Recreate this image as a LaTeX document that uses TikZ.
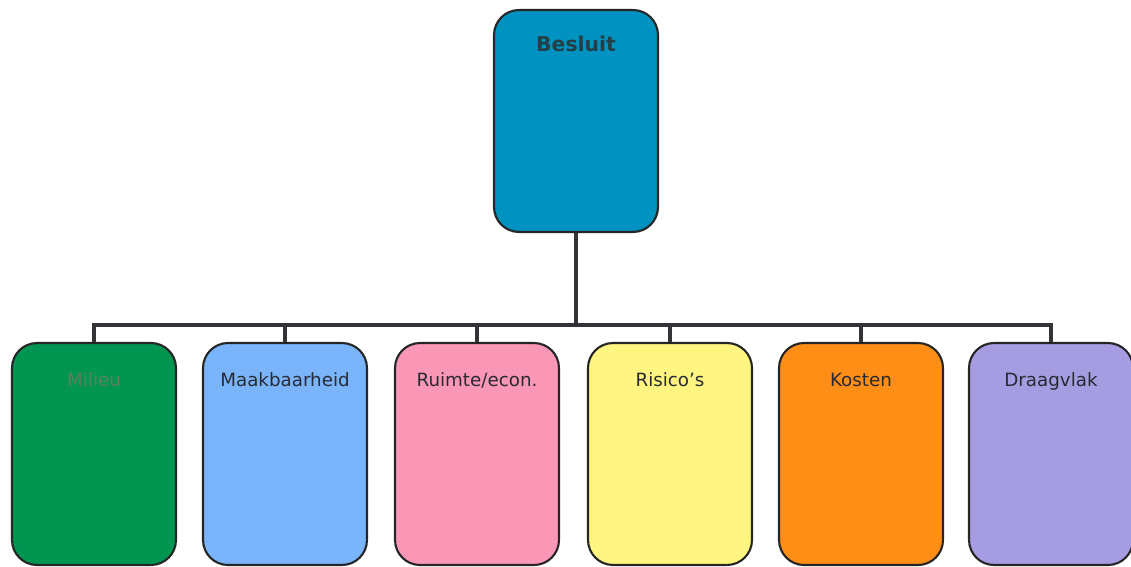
\documentclass[tikz,border=0pt]{standalone}
\usepackage{fontspec}
\setmainfont{DejaVu Sans}
\begin{document}
\begin{tikzpicture}[
  x=0.02cm, y=-0.02cm,
  every node/.style={font=\fontsize{10.4}{12}\selectfont},
  box/.style={draw=black!85, line width=1.2pt, rounded corners=0.5cm,
              minimum width=3.28cm, minimum height=4.44cm, inner sep=0pt},
  conn/.style={draw=black!85!cyan!70!black, line width=2.3pt},
]

\definecolor{topblue}{RGB}{0,146,192}
\definecolor{boxGreen}{RGB}{0,150,82}
\definecolor{boxBlue}{RGB}{122,180,250}
\definecolor{boxPink}{RGB}{250,150,182}
\definecolor{boxYellow}{RGB}{255,245,128}
\definecolor{boxOrange}{RGB}{255,142,22}
\definecolor{boxPurple}{RGB}{166,156,226}
\definecolor{txtDark}{RGB}{40,42,50}
\definecolor{txtGreen}{RGB}{92,128,94}

\useasboundingbox (0,0) rectangle (1131,567);

% top node
\node[box, fill=topblue,
      label={[anchor=north, yshift=-0.42cm, font=\fontsize{11.6}{13}\selectfont\bfseries,
              text=txtDark!90!cyan]north:Besluit}]
  (besluit) at (576,121) {};

% criteria: index/x centre/label/fill/text colour
\foreach \i/\xc/\lbl/\col/\tc in {
  1/94/Milieu/boxGreen/txtGreen,
  2/285/Maakbaarheid/boxBlue/txtDark,
  3/477/Ruimte\slash econ./boxPink/txtDark,
  4/670/Risico's/boxYellow/txtDark,
  5/861/Kosten/boxOrange/txtDark,
  6/1051/Draagvlak/boxPurple/txtDark}{
  \node[box, fill=\col,
        label={[anchor=north, yshift=-0.45cm, text=\tc,
                text height=1.6ex, text depth=0.4ex]north:\lbl}]
    (crit\i) at (\xc,454) {};
}

% connectors
\coordinate (bar) at (576,325);
\draw[conn] (besluit.south) -- (besluit.south |- bar);
\draw[conn] (crit1.north) |- (crit6.north |- bar) -- (crit6.north);
\foreach \i in {2,...,5}{
  \draw[conn] (crit\i.north) -- (crit\i.north |- bar);
}

\end{tikzpicture}
\end{document}
